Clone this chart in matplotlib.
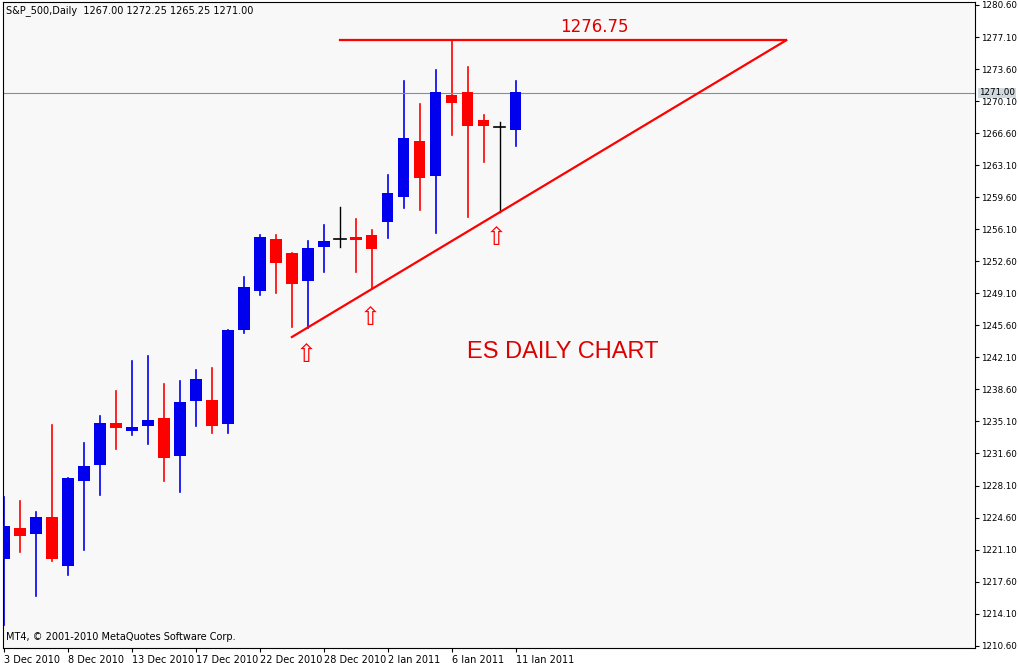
import matplotlib
matplotlib.use("Agg")
import matplotlib.pyplot as plt
import numpy as np

def p(y):
    return 1280.60 - (y - 5) / 9.153

# pixel-read OHLC (open, high, low, close) converted to prices
opens_px  = [559,528,534,517,566,481,465,423,431,426,418,456,401,400,424,330,291,239,253,281,247,239,237,235,222,197,141,176, 95, 92,120,127,130]
highs_px  = [497,501,512,425,478,443,416,391,361,356,384,381,370,368,330,277,235,235,253,241,225,207,219,230,175, 81,104, 70, 40, 67,115,122, 81]
lows_px   = [625,552,596,561,575,550,495,449,435,444,481,492,426,433,433,333,295,293,327,328,272,247,272,288,238,208,210,233,135,217,162,212,146]
closes_px = [526,536,517,559,478,466,423,428,427,420,458,402,379,426,330,287,237,263,284,248,241,239,240,249,193,138,178, 92,103,126,126,127, 92]
opens = [round(p(v), 2) for v in opens_px]
highs = [round(p(v), 2) for v in highs_px]
lows = [round(p(v), 2) for v in lows_px]
closes = [round(p(v), 2) for v in closes_px]

date_idx = [0, 4, 8, 12, 16, 20, 24, 28, 32]
date_labels = ["3 Dec 2010", "8 Dec 2010", "13 Dec 2010", "17 Dec 2010", "22 Dec 2010",
               "28 Dec 2010", "2 Jan 2011", "6 Jan 2011", "11 Jan 2011"]
yticks = [1280.60 - 3.5 * k for k in range(21)]
last_price = 1271.00
resistance = 1276.75

fig = plt.figure(figsize=(10.18, 6.63), dpi=100)
fig.patch.set_facecolor("white")
ax = fig.add_axes([3/1018, 15/663, 972/1018, 646/663])
ax.set_facecolor("#f8f8f8")
ax.set_xlim(-0.06, 60.7)
ax.set_ylim(p(648), p(2))

for i, (o, h, l, c) in enumerate(zip(opens, highs, lows, closes)):
    if abs(o - c) < 0.15:
        col = "black"
        ax.plot([i, i], [l, h], color=col, lw=1)
        ax.plot([i - 0.35, i + 0.35], [c, c], color=col, lw=1.2)
        continue
    col = "#0000ee" if c > o else "#ff0000"
    ax.plot([i, i], [l, h], color=col, lw=1.2, zorder=2)
    ax.bar(i, abs(c - o), bottom=min(o, c), width=0.7, color=col, zorder=3)

ax.axhline(last_price, color="#7890a8", lw=0.8)
ax.plot([21, 48.9], [resistance, resistance], color="red", lw=1.6)
ax.plot([18, 48.9], [p(337), resistance], color="red", lw=1.6)
ax.text(36.9, p(27), f"{resistance:.2f}", color="#dd0000", fontsize=12, ha="center", va="center")
ax.text(34.9, p(352), "ES DAILY CHART", color="#dd0000", fontsize=17, ha="center", va="center",
        family="Liberation Sans")
for xi, yp in [(18.9, 355), (22.9, 318), (30.8, 238)]:
    ax.text(xi, p(yp), "⇧", color="red", fontsize=18, ha="center", va="center")

ax.set_xticks(date_idx)
ax.set_xticklabels(date_labels, ha="left", fontsize=7)
ax.set_yticks(yticks)
ax.set_yticklabels([f"{v:.2f}" for v in yticks], fontsize=6.3)
ax.yaxis.tick_right()
ax.tick_params(axis="y", length=3, pad=1)
ax.tick_params(axis="x", length=3, pad=2)
ax.text(1.004, last_price, f"{last_price:.2f}", transform=ax.get_yaxis_transform(),
        fontsize=6.3, va="center", ha="left", color="black",
        bbox=dict(facecolor="#d0d8e0", edgecolor="none", pad=0.5))
for s in ax.spines.values():
    s.set_color("black")
    s.set_linewidth(0.8)

ax.text(0.003, 0.995, "S&P_500,Daily  1267.00 1272.25 1265.25 1271.00", transform=ax.transAxes,
        fontsize=7, va="top", ha="left")
ax.text(0.003, 0.01, "MT4, © 2001-2010 MetaQuotes Software Corp.", transform=ax.transAxes,
        fontsize=7, va="bottom", ha="left")

fig.savefig("out.png", dpi=100)
